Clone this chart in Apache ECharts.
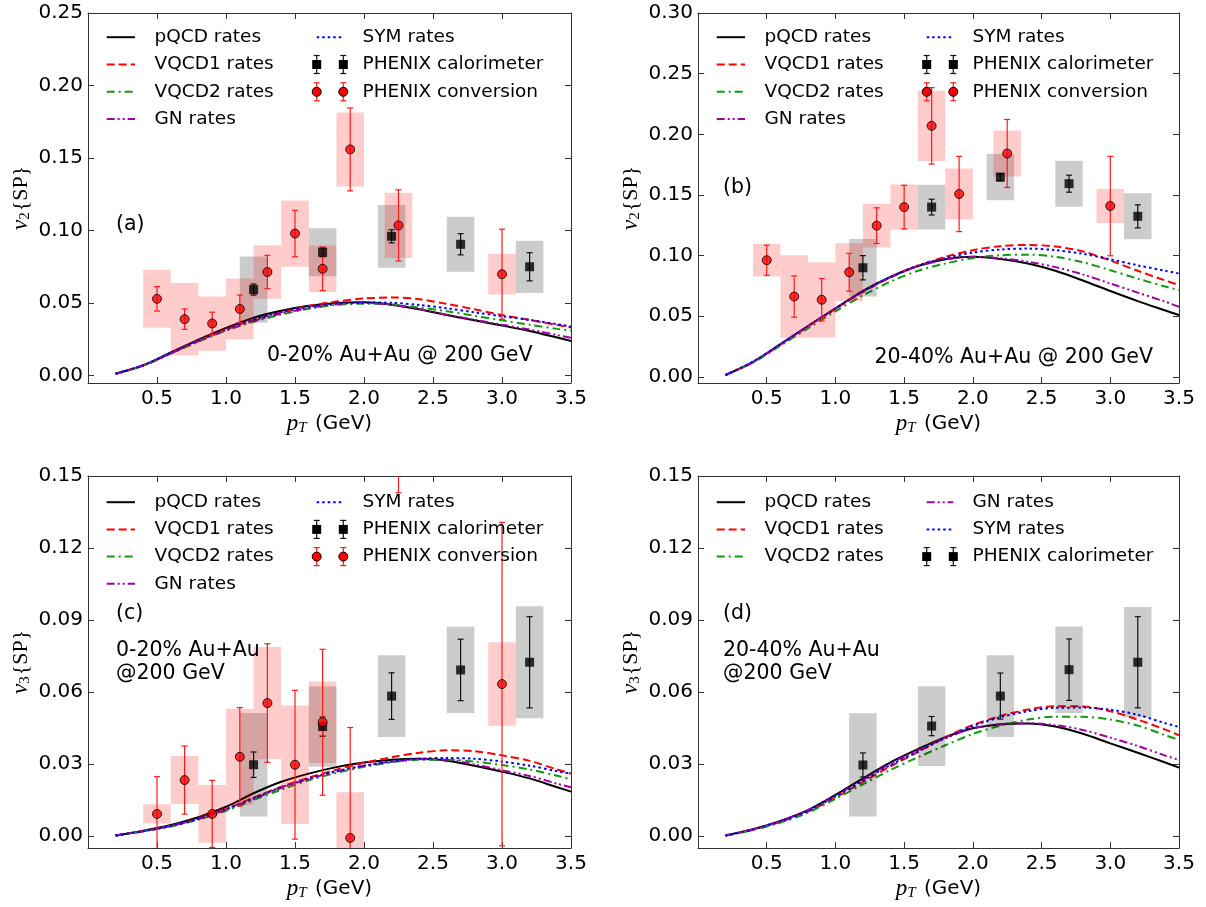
<!DOCTYPE html>
<html><head><meta charset="utf-8">
<script src="https://cdn.jsdelivr.net/npm/echarts@6/dist/echarts.min.js"></script>
<style>html,body{margin:0;padding:0;background:#fff}#c{width:1206px;height:907px}</style>
</head><body><div id="c"></div>
<script>
// ---------- data ----------
const pt = [0.2,0.4,0.6,0.8,1.0,1.2,1.4,1.6,1.8,2.0,2.2,2.4,2.6,2.8,3.0,3.2,3.4,3.5];

const a_pQCD  = [0.0014,0.0072,0.0160,0.0248,0.0329,0.0400,0.0448,0.0482,0.0502,0.0506,0.0490,0.0458,0.0418,0.0382,0.0346,0.0308,0.0263,0.0240];
const a_VQCD1 = [0.0014,0.0070,0.0155,0.0240,0.0318,0.0385,0.0438,0.0480,0.0512,0.0532,0.0540,0.0528,0.0495,0.0458,0.0418,0.0385,0.0350,0.0333];
const a_VQCD2 = [0.0014,0.0069,0.0152,0.0234,0.0310,0.0372,0.0422,0.0462,0.0488,0.0497,0.0492,0.0470,0.0445,0.0413,0.0382,0.0352,0.0323,0.0310];
const a_GN    = [0.0014,0.0070,0.0154,0.0238,0.0315,0.0378,0.0428,0.0466,0.0492,0.0502,0.0488,0.0458,0.0420,0.0386,0.0352,0.0318,0.0280,0.0262];
const a_SYM   = [0.0014,0.0072,0.0158,0.0244,0.0322,0.0388,0.0438,0.0475,0.0498,0.0505,0.0503,0.0488,0.0465,0.0437,0.0410,0.0385,0.0355,0.0340];

const b_pQCD  = [0.0016,0.0125,0.0270,0.0420,0.0565,0.0710,0.0825,0.0915,0.0970,0.0990,0.0972,0.0935,0.0875,0.0795,0.0708,0.0625,0.0548,0.0510];
const b_VQCD1 = [0.0016,0.0120,0.0265,0.0415,0.0560,0.0700,0.0820,0.0915,0.0990,0.1045,0.1078,0.1088,0.1075,0.1035,0.0960,0.0875,0.0795,0.0757];
const b_VQCD2 = [0.0016,0.0118,0.0258,0.0400,0.0540,0.0672,0.0785,0.0875,0.0935,0.0980,0.1003,0.1008,0.0990,0.0945,0.0880,0.0810,0.0745,0.0715];
const b_GN    = [0.0016,0.0124,0.0268,0.0418,0.0562,0.0705,0.0822,0.0912,0.0968,0.0990,0.0978,0.0950,0.0905,0.0845,0.0770,0.0695,0.0620,0.0578];
const b_SYM   = [0.0016,0.0125,0.0270,0.0420,0.0563,0.0705,0.0822,0.0918,0.0980,0.1025,0.1050,0.1058,0.1045,0.1015,0.0970,0.0920,0.0875,0.0853];

const c_pQCD  = [0.0002,0.0022,0.0046,0.0078,0.0122,0.0178,0.0226,0.0260,0.0287,0.0306,0.0318,0.0322,0.0314,0.0293,0.0268,0.0240,0.0203,0.0185];
const c_VQCD1 = [0.0002,0.0020,0.0042,0.0072,0.0112,0.0160,0.0205,0.0243,0.0276,0.0305,0.0328,0.0347,0.0357,0.0353,0.0336,0.0313,0.0277,0.0260];
const c_VQCD2 = [0.0002,0.0019,0.0040,0.0068,0.0105,0.0150,0.0193,0.0232,0.0263,0.0288,0.0307,0.0318,0.0318,0.0310,0.0296,0.0277,0.0251,0.0236];
const c_GN    = [0.0002,0.0020,0.0042,0.0071,0.0110,0.0155,0.0200,0.0238,0.0268,0.0293,0.0310,0.0320,0.0318,0.0298,0.0274,0.0250,0.0218,0.0203];
const c_SYM   = [0.0002,0.0020,0.0042,0.0072,0.0112,0.0158,0.0203,0.0240,0.0270,0.0293,0.0310,0.0322,0.0325,0.0322,0.0310,0.0293,0.0270,0.0260];

const d_pQCD  = [0.0002,0.0028,0.0063,0.0108,0.0171,0.0240,0.0307,0.0362,0.0412,0.0449,0.0465,0.0469,0.0456,0.0426,0.0386,0.0347,0.0306,0.0285];
const d_VQCD1 = [0.0002,0.0026,0.0059,0.0102,0.0160,0.0225,0.0290,0.0350,0.0412,0.0462,0.0500,0.0527,0.0541,0.0540,0.0520,0.0485,0.0443,0.0420];
const d_VQCD2 = [0.0002,0.0025,0.0056,0.0097,0.0155,0.0215,0.0275,0.0328,0.0378,0.0425,0.0460,0.0485,0.0497,0.0497,0.0485,0.0460,0.0420,0.0400];
const d_GN    = [0.0002,0.0028,0.0063,0.0107,0.0168,0.0235,0.0302,0.0358,0.0408,0.0448,0.0467,0.0470,0.0462,0.0442,0.0410,0.0375,0.0335,0.0317];
const d_SYM   = [0.0002,0.0027,0.0061,0.0104,0.0165,0.0232,0.0296,0.0352,0.0408,0.0458,0.0495,0.0520,0.0534,0.0535,0.0526,0.0505,0.0470,0.0455];

const convPt = [0.5,0.7,0.9,1.1,1.3,1.5,1.7,1.9,2.25,3.0];
const calPt  = [1.2,1.7,2.2,2.7,3.2];

const a_conv    = [0.0530,0.0390,0.0360,0.0460,0.0715,0.0980,0.0737,0.1560,0.1036,0.0700];
const a_convErr = [0.0084,0.0070,0.0078,0.0096,0.0115,0.0160,0.0150,0.0286,0.0245,0.0310];
const a_convSys = [0.0200,0.0250,0.0187,0.0210,0.0185,0.0228,0.0160,0.0255,0.0225,0.0140];
const a_cal     = [0.0594,0.0851,0.0961,0.0906,0.0751];
const a_calErr  = [0.0038,0.0030,0.0045,0.0073,0.0097];
const a_calSys  = [0.0228,0.0166,0.0216,0.0190,0.0180];

const b_conv    = [0.0962,0.0663,0.0636,0.0863,0.1247,0.1400,0.2070,0.1508,0.1842,0.1409];
const b_convErr = [0.0124,0.0170,0.0175,0.0156,0.0147,0.0180,0.0315,0.0310,0.0280,0.0410];
const b_convSys = [0.0135,0.0340,0.0310,0.0240,0.0180,0.0187,0.0290,0.0210,0.0190,0.0140];
const b_cal     = [0.0900,0.1400,0.1647,0.1593,0.1324];
const b_calErr  = [0.0100,0.0065,0.0030,0.0070,0.0095];
const b_calSys  = [0.0237,0.0185,0.0190,0.0190,0.0190];

const c_conv    = [0.0092,0.0233,0.0092,0.0330,0.0554,0.0297,0.0474,-0.0008,0.1750,0.0633];
const c_convErr = [0.0155,0.0142,0.0140,0.0205,0.0247,0.0310,0.0304,0.0460,0.0320,0.0674];
const c_convSys = [0.0040,0.0100,0.0120,0.0200,0.0234,0.0247,0.0170,0.0190,0.0200,0.0174];
const c_cal     = [0.0297,0.0456,0.0583,0.0692,0.0724];
const c_calErr  = [0.0053,0.0040,0.0097,0.0128,0.0190];
const c_calSys  = [0.0216,0.0167,0.0170,0.0180,0.0233];

const d_cal     = [0.0296,0.0458,0.0583,0.0693,0.0724];
const d_calErr  = [0.0050,0.0040,0.0096,0.0128,0.0190];
const d_calSys  = [0.0215,0.0166,0.0170,0.0180,0.0230];

const xTicks  = [0.5,1.0,1.5,2.0,2.5,3.0,3.5];
const a_yTicks = [0.00,0.05,0.10,0.15,0.20,0.25];
const b_yTicks = [0.00,0.05,0.10,0.15,0.20,0.25,0.30];
const c_yTicks = [0.00,0.03,0.06,0.09,0.12,0.15];
const d_yTicks = [0.00,0.03,0.06,0.09,0.12,0.15];

const curveNames = ['pQCD rates','VQCD1 rates','VQCD2 rates','GN rates','SYM rates'];

// ---------- styles ----------
const FONT = '"DejaVu Sans", sans-serif';
const SERIF = '"Liberation Serif", "DejaVu Serif", serif';
const curveStyle = {
  'pQCD rates':  {color:'#000000', dash:'solid'},
  'VQCD1 rates': {color:'#ff0000', dash:[8,4]},
  'VQCD2 rates': {color:'#119911', dash:[8,4,2,4]},
  'GN rates':    {color:'#a000a0', dash:[8,3,2,3,2,3]},
  'SYM rates':   {color:'#0000ff', dash:[2.5,3]}
};
const BOX_HALF = 0.1;
const AXIS_COLOR = '#333';

const grids = [
  {left:88, top:13, width:483, height:370},
  {left:698, top:13, width:481, height:370},
  {left:88, top:476, width:483, height:372},
  {left:698, top:476, width:481, height:372}
];

const panels = [
  {curves:[a_pQCD,a_VQCD1,a_VQCD2,a_GN,a_SYM], yTicks:a_yTicks, ymax:0.25, sub:'2',
   conv:[a_conv,a_convErr,a_convSys], cal:[a_cal,a_calErr,a_calSys]},
  {curves:[b_pQCD,b_VQCD1,b_VQCD2,b_GN,b_SYM], yTicks:b_yTicks, ymax:0.30, sub:'2',
   conv:[b_conv,b_convErr,b_convSys], cal:[b_cal,b_calErr,b_calSys]},
  {curves:[c_pQCD,c_VQCD1,c_VQCD2,c_GN,c_SYM], yTicks:c_yTicks, ymax:0.15, sub:'3',
   conv:[c_conv,c_convErr,c_convSys], cal:[c_cal,c_calErr,c_calSys]},
  {curves:[d_pQCD,d_VQCD1,d_VQCD2,d_GN,d_SYM], yTicks:d_yTicks, ymax:0.15, sub:'3',
   conv:null, cal:[d_cal,d_calErr,d_calSys]}
];

function clampY(y, cs){ return Math.max(cs.y, Math.min(cs.y + cs.height, y)); }

function boxSeries(i, pts, vals, sys, fill){
  return {
    type:'custom', xAxisIndex:i, yAxisIndex:i, silent:true, clip:true, z:3,
    data: pts.map((p,k)=>[p, vals[k], sys[k]]),
    renderItem:(params, api)=>{
      const cs = params.coordSys;
      const x = api.value(0), y = api.value(1), s = api.value(2);
      const p1 = api.coord([x-BOX_HALF, y+s]);
      const p2 = api.coord([x+BOX_HALF, y-s]);
      const y1 = clampY(p1[1], cs), y2 = clampY(p2[1], cs);
      if (y2 - y1 <= 0) return null;
      return {type:'rect', shape:{x:p1[0], y:y1, width:p2[0]-p1[0], height:y2-y1}, style:{fill:fill}};
    }
  };
}
function errSeries(i, pts, vals, err, stroke){
  return {
    type:'custom', xAxisIndex:i, yAxisIndex:i, silent:true, clip:true, z:4,
    data: pts.map((p,k)=>[p, vals[k], err[k]]),
    renderItem:(params, api)=>{
      const cs = params.coordSys;
      const x = api.value(0), y = api.value(1), e = api.value(2);
      const t = api.coord([x, y+e]), b = api.coord([x, y-e]);
      const ty = clampY(t[1], cs), by = clampY(b[1], cs);
      const st = {stroke:stroke, lineWidth:1.2};
      const ch = [];
      if (by > ty) ch.push({type:'line', shape:{x1:t[0], y1:ty, x2:t[0], y2:by}, style:st});
      if (t[1] >= cs.y && t[1] <= cs.y+cs.height) ch.push({type:'line', shape:{x1:t[0]-3, y1:t[1], x2:t[0]+3, y2:t[1]}, style:st});
      if (b[1] >= cs.y && b[1] <= cs.y+cs.height) ch.push({type:'line', shape:{x1:b[0]-3, y1:b[1], x2:b[0]+3, y2:b[1]}, style:st});
      return {type:'group', children:ch};
    }
  };
}

const series = [];
panels.forEach((P, i)=>{
  P.curves.forEach((arr, k)=>{
    const nm = curveNames[k], st = curveStyle[nm];
    series.push({
      type:'line', name:nm, xAxisIndex:i, yAxisIndex:i, z:2,
      data: pt.map((x,j)=>[x, arr[j]]), showSymbol:false, smooth:0.3,
      lineStyle:{color:st.color, width:2, type:st.dash}, silent:true
    });
  });
  series.push(boxSeries(i, calPt, P.cal[0], P.cal[2], 'rgba(0,0,0,0.2)'));
  series.push(errSeries(i, calPt, P.cal[0], P.cal[1], '#111'));
  series.push({type:'scatter', xAxisIndex:i, yAxisIndex:i, z:5, silent:true,
    data: calPt.map((p,k)=>[p, P.cal[0][k]]), symbol:'rect', symbolSize:9,
    itemStyle:{color:'#000'}});
  if (P.conv){
    series.push(boxSeries(i, convPt, P.conv[0], P.conv[2], 'rgba(255,0,0,0.2)'));
    series.push(errSeries(i, convPt, P.conv[0], P.conv[1], '#ff1a1a'));
    series.push({type:'scatter', xAxisIndex:i, yAxisIndex:i, z:6, silent:true,
      data: convPt.map((p,k)=>[p, P.conv[0][k]]), symbol:'circle', symbolSize:9,
      itemStyle:{color:'#ff0000', borderColor:'#000', borderWidth:1}});
  }
});

const xAxes = [], yAxes = [];
panels.forEach((P,i)=>{
  xAxes.push({
    type:'value', gridIndex:i, min:0, max:3.5, interval:0.5, position:'bottom',
    axisLine:{show:true, onZero:false, lineStyle:{color:AXIS_COLOR, width:1}},
    axisTick:{show:true, inside:true, length:6, customValues:xTicks, lineStyle:{color:AXIS_COLOR}},
    axisLabel:{show:true, customValues:xTicks, formatter:v=>v.toFixed(1), fontSize:20, fontFamily:FONT, color:'#000', margin:6},
    splitLine:{show:false},
    name:'{p|p}{t|T} (GeV)', nameLocation:'middle', nameGap:29,
    nameTextStyle:{fontSize:20, fontFamily:FONT, color:'#000',
      rich:{p:{fontFamily:SERIF, fontStyle:'italic', fontSize:23, color:'#000'},
            t:{fontFamily:SERIF, fontStyle:'italic', fontSize:15, color:'#000', padding:[9,2,0,0]}}}
  });
});
panels.forEach((P,i)=>{
  xAxes.push({
    type:'value', gridIndex:i, min:0, max:3.5, interval:0.5, position:'top',
    axisLine:{show:true, onZero:false, lineStyle:{color:AXIS_COLOR, width:1}},
    axisTick:{show:true, inside:true, length:6, customValues:xTicks, lineStyle:{color:AXIS_COLOR}},
    axisLabel:{show:false}, splitLine:{show:false}
  });
});
panels.forEach((P,i)=>{
  yAxes.push({
    type:'value', gridIndex:i, min:-0.005, max:P.ymax, position:'left',
    axisLine:{show:true, onZero:false, lineStyle:{color:AXIS_COLOR, width:1}},
    axisTick:{show:true, inside:true, length:6, customValues:P.yTicks, lineStyle:{color:AXIS_COLOR}},
    axisLabel:{show:true, customValues:P.yTicks, formatter:v=>v.toFixed(2), fontSize:20, fontFamily:FONT, color:'#000', margin:5},
    splitLine:{show:false},
    name:'{v|v}{s|' + P.sub + '}{b|\u007bSP\u007d}', nameLocation:'middle', nameRotate:90, nameGap:55,
    nameTextStyle:{fontSize:21, fontFamily:SERIF, color:'#000',
      rich:{v:{fontFamily:SERIF, fontStyle:'italic', fontSize:23, color:'#000'},
            s:{fontFamily:SERIF, fontSize:15, color:'#000', padding:[9,1,0,0]},
            b:{fontFamily:SERIF, fontSize:22, color:'#000'}}}
  });
});
panels.forEach((P,i)=>{
  yAxes.push({
    type:'value', gridIndex:i, min:-0.005, max:P.ymax, position:'right',
    axisLine:{show:true, onZero:false, lineStyle:{color:AXIS_COLOR, width:1}},
    axisTick:{show:true, inside:true, length:6, customValues:P.yTicks, lineStyle:{color:AXIS_COLOR}},
    axisLabel:{show:false}, splitLine:{show:false}
  });
});

// ---------- legends & annotations (graphic) ----------
const graphics = [];
function txt(s, x, y, size){
  graphics.push({type:'text', silent:true, z:10, style:{text:s, x:x, y:y, font:size+'px "DejaVu Sans"', fill:'#000',
    textAlign:'left', textVerticalAlign:'middle', align:'left', verticalAlign:'middle'}});
}
function legLine(name, x1, x2, y){
  const st = curveStyle[name];
  graphics.push({type:'line', silent:true, z:10, shape:{x1:x1, y1:y, x2:x2, y2:y},
    style:{stroke:st.color, lineWidth:2, lineDash: st.dash==='solid' ? null : st.dash}});
}
function legMarker(kind, x, y){
  const c = kind==='cal' ? '#111' : '#ff1a1a';
  const st = {stroke:c, lineWidth:1.2};
  graphics.push({type:'line', silent:true, z:10, shape:{x1:x, y1:y-9, x2:x, y2:y+9}, style:st});
  graphics.push({type:'line', silent:true, z:10, shape:{x1:x-3, y1:y-9, x2:x+3, y2:y-9}, style:st});
  graphics.push({type:'line', silent:true, z:10, shape:{x1:x-3, y1:y+9, x2:x+3, y2:y+9}, style:st});
  if (kind==='cal'){
    graphics.push({type:'rect', silent:true, z:11, shape:{x:x-4.5, y:y-4.5, width:9, height:9}, style:{fill:'#000'}});
  } else {
    graphics.push({type:'circle', silent:true, z:11, shape:{cx:x, cy:y, r:4.5}, style:{fill:'#ff0000', stroke:'#000', lineWidth:1}});
  }
}
const legendLayouts = [
  [[0,0,'pQCD rates'],[0,1,'VQCD1 rates'],[0,2,'VQCD2 rates'],[0,3,'GN rates'],[1,0,'SYM rates'],[1,1,'cal'],[1,2,'conv']],
  [[0,0,'pQCD rates'],[0,1,'VQCD1 rates'],[0,2,'VQCD2 rates'],[0,3,'GN rates'],[1,0,'SYM rates'],[1,1,'cal'],[1,2,'conv']],
  [[0,0,'pQCD rates'],[0,1,'VQCD1 rates'],[0,2,'VQCD2 rates'],[0,3,'GN rates'],[1,0,'SYM rates'],[1,1,'cal'],[1,2,'conv']],
  [[0,0,'pQCD rates'],[0,1,'VQCD1 rates'],[0,2,'VQCD2 rates'],[1,0,'GN rates'],[1,1,'SYM rates'],[1,2,'cal']]
];
const legendRows = [[37.2,64.5,91.8,119.1],[37.2,64.5,91.8,119.1],[502.2,529.4,556.6,583.8],[502.2,529.4,556.6,583.8]];
const dataLabels = {cal:'PHENIX calorimeter', conv:'PHENIX conversion'};
legendLayouts.forEach((L, i)=>{
  const x0 = grids[i].left;
  L.forEach(([col,row,key])=>{
    const y = legendRows[i][row];
    const lx1 = x0 + (col ? 228.7 : 18.7), lx2 = x0 + (col ? 255.3 : 47), tx = x0 + (col ? 274.5 : 66.5);
    if (key==='cal' || key==='conv'){
      legMarker(key, lx1, y); legMarker(key, lx2, y);
      txt(dataLabels[key], tx, y, 18.5);
    } else {
      legLine(key, lx1, lx2, y);
      txt(key, tx, y, 18.5);
    }
  });
});
txt('(a)', 116, 225, 20.5);
txt('0-20% Au+Au @ 200 GeV', 267, 356, 20.5);
txt('(b)', 723, 188, 20.5);
txt('20-40% Au+Au @ 200 GeV', 874.5, 358, 20.5);
txt('(c)', 116, 614, 20.5);
txt('0-20% Au+Au', 116, 651, 20.5);
txt('@200 GeV', 116, 673.5, 20.5);
txt('(d)', 723, 613.5, 20.5);
txt('20-40% Au+Au', 723, 651, 20.5);
txt('@200 GeV', 723, 673.5, 20.5);

const chart = echarts.init(document.getElementById('c'), null, {renderer:'canvas'});
chart.setOption({
  animation:false,
  backgroundColor:'#fff',
  grid: grids,
  xAxis: xAxes,
  yAxis: yAxes,
  series: series,
  graphic: {elements: graphics}
});
</script></body></html>
